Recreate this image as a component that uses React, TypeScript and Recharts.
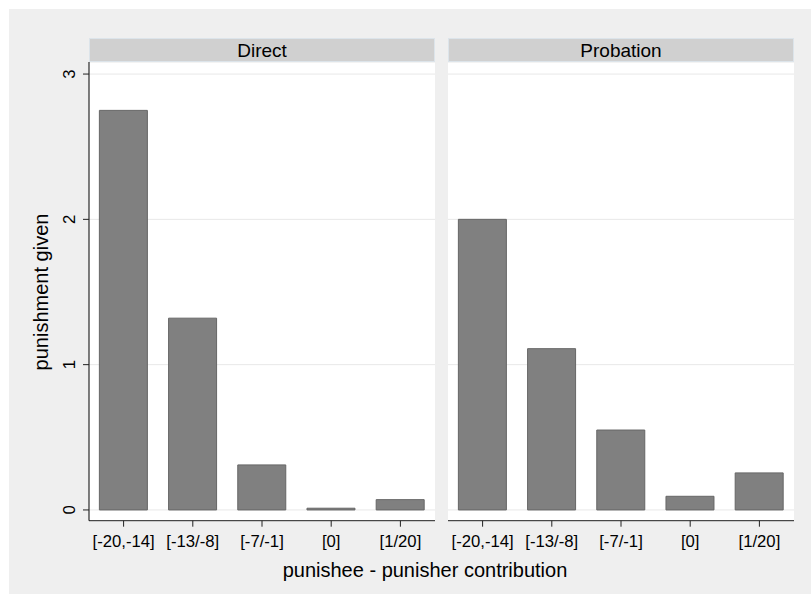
import React from "react";
import { BarChart, Bar, XAxis, YAxis, CartesianGrid } from "recharts";

const categories = ["[-20,-14]", "[-13/-8]", "[-7/-1]", "[0]", "[1/20]"];
const directValues = [2.75, 1.32, 0.31, 0.012, 0.071];
const probationValues = [2.0, 1.11, 0.55, 0.094, 0.255];
const yTicks = [0, 1, 2, 3];
const panelTitles = ["Direct", "Probation"];
const yTitle = "punishment given";
const xTitle = "punishee - punisher contribution";

const FONT = '"Liberation Sans", Arial, sans-serif';
const CHART_H = 532;

const YTick = (props: any) => {
  const { y, payload } = props;
  return (
    <text
      x={75}
      y={y}
      transform={`rotate(-90 75 ${y})`}
      textAnchor="middle"
      fontSize={16.7}
      fontFamily={FONT}
      fill="#000"
    >
      {payload.value}
    </text>
  );
};

function Panel({ values, showY, width }: { values: number[]; showY: boolean; width: number }) {
  const data = categories.map((name, i) => ({ name, value: values[i] }));
  return (
    <BarChart
      width={width}
      height={CHART_H}
      data={data}
      margin={{ top: 0, right: 0, bottom: 43.3, left: 0 }}
      barCategoryGap="15%"
    >
      <CartesianGrid vertical={false} stroke="#e8e8e8" fill="#fff" />
      <XAxis
        dataKey="name"
        height={30}
        tickSize={6}
        tickMargin={8}
        axisLine={{ stroke: "#222" }}
        tickLine={{ stroke: "#222" }}
        tick={{ fill: "#000", fontSize: 16.7, fontFamily: FONT }}
        interval={0}
      />
      <YAxis
        type="number"
        domain={[-0.074, 3.083]}
        ticks={yTicks}
        hide={!showY}
        width={89}
        tickSize={6}
        axisLine={{ stroke: "#000" }}
        tickLine={{ stroke: "#222" }}
        tick={<YTick />}
      />
      <Bar dataKey="value" fill="#808080" stroke="#666" strokeWidth={1} isAnimationActive={false} />
    </BarChart>
  );
}

export default function App() {
  return (
    <div style={{ position: "absolute", left: 0, top: 0, width: 811, height: 594, background: "#fff" }}>
      <div style={{ position: "absolute", left: 9, top: 9, width: 802, height: 585, background: "#efefef" }} />
      <div style={{ position: "absolute", left: 0, top: 62 }}>
        <Panel values={directValues} showY={true} width={435} />
      </div>
      <div style={{ position: "absolute", left: 448, top: 62 }}>
        <Panel values={probationValues} showY={false} width={346} />
      </div>
      <svg
        width={811}
        height={594}
        style={{ position: "absolute", left: 0, top: 0, pointerEvents: "none" }}
        fontFamily={FONT}
      >
        {panelTitles.map((t, i) => {
          const x0 = i === 0 ? 89 : 448;
          return (
            <g key={t}>
              <rect x={x0 + 0.5} y={38.5} width={345} height={23} fill="#d0d0d0" stroke="#dce4ea" />
              <text x={x0 + 173} y={56.7} textAnchor="middle" fontSize={19}>
                {t}
              </text>
            </g>
          );
        })}
        <text x={425} y={576.7} textAnchor="middle" fontSize={20}>
          {xTitle}
        </text>
        <text x={48} y={292} transform="rotate(-90 48 292)" textAnchor="middle" fontSize={20}>
          {yTitle}
        </text>
      </svg>
    </div>
  );
}
